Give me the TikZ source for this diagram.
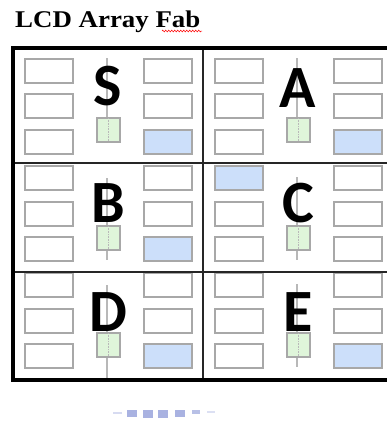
\documentclass[tikz,border=0pt]{standalone}
\usepackage{fontspec}
\setmainfont{Liberation Serif}
\newfontfamily\letterfont{Carlito}
\usetikzlibrary{decorations.pathmorphing}
\definecolor{slotgray}{HTML}{A8A8A8}
\definecolor{slotblue}{HTML}{CCDFFA}
\definecolor{slotgreen}{HTML}{DFF5DA}
\definecolor{axisgray}{HTML}{B8B8B8}
\definecolor{smudge}{HTML}{9AA5DC}
\tikzset{
  slot/.style={draw=slotgray, line width=1.1pt, fill=white, minimum width=48pt, minimum height=24pt, inner sep=0pt, outer sep=0pt, anchor=north west},
  blueslot/.style={slot, fill=slotblue},
  greenslot/.style={slot, fill=slotgreen, minimum width=23pt},
  axisline/.style={draw=axisgray, line width=1.8pt},
  bigletter/.style={font=\letterfont\bfseries\fontsize{60}{60}\selectfont, inner sep=0pt, text=black},
  frame/.style={line width=3.5pt, black},
  divider/.style={line width=1.2pt, black!85},
  smudgebox/.style={fill=smudge, draw=none, opacity=0.85}
}
\begin{document}
\begin{tikzpicture}[x=1pt,y=-1pt]
\useasboundingbox (0,0) rectangle (387,421);
% title
\node[anchor=base west, inner sep=0pt] (title) at (15,27) {\scalebox{1.12}[1]{\fontsize{24}{24}\selectfont\bfseries LCD Array Fab}};
\coordinate (sqA) at (162,31);
\coordinate (sqB) at (202,31);
\draw[red, line width=0.5pt, decorate, decoration={zigzag, segment length=3pt, amplitude=0.9pt}] (sqA) -- (sqB);

% cells: name / x-offset / slot rows / green top / axis start / axis end / letter y / letter / blue position
\foreach \nm/\dx/\ya/\yb/\yc/\yg/\ls/\le/\ly/\lt/\bl in {
  S/0/59/94/130/118/58/143/86/S/r,
  A/190/59/94/130/118/58/142/88/A/r,
  B/0/166/202/237/226/178/260/203/B/r,
  C/190/166/202/237/226/177/260/203/C/l,
  D/0/273/309/344/333/285/378/312/D/r,
  E/190/273/309/344/333/284/367/312/E/r}{
  \coordinate (\nm-top) at (107+\dx,\ls);
  \coordinate (\nm-bot) at (107+\dx,\le);
  \draw[axisline] (\nm-top) -- (\nm-bot);
  \if\bl l
    \node[blueslot] (\nm-l1) at (25+\dx,\ya) {};
  \else
    \node[slot] (\nm-l1) at (25+\dx,\ya) {};
  \fi
  \node[slot] (\nm-l2) at (25+\dx,\yb) {};
  \node[slot] (\nm-l3) at (25+\dx,\yc) {};
  \node[slot] (\nm-r1) at (144+\dx,\ya) {};
  \node[slot] (\nm-r2) at (144+\dx,\yb) {};
  \if\bl r
    \node[blueslot] (\nm-r3) at (144+\dx,\yc) {};
  \else
    \node[slot] (\nm-r3) at (144+\dx,\yc) {};
  \fi
  \node[greenslot] (\nm-g) at (97+\dx,\yg) {};
  \draw[axisgray, line width=0.6pt, densely dotted] (\nm-g.north) -- (\nm-g.south);
  \node[bigletter] (\nm-letter) at (108+\dx,\ly) {\lt};
}

% frame and dividers
\coordinate (f-tl) at (13,48);
\coordinate (f-tr) at (390,48);
\coordinate (f-bl) at (13,380);
\coordinate (f-br) at (390,380);
\coordinate (d-top) at (203,48);
\coordinate (d-bot) at (203,380);
\coordinate (h1-l) at (13,163);
\coordinate (h1-r) at (390,163);
\coordinate (h2-l) at (13,272);
\coordinate (h2-r) at (390,272);
\draw[divider] (d-top) -- (d-bot);
\draw[divider] (h1-l) -- (h1-r);
\draw[divider] (h2-l) -- (h2-r);
\draw[frame] (f-tr) -- (f-tl) -- (f-bl) -- (f-br);

% faint smudge below
\fill[smudgebox, opacity=0.4] (113,412) rectangle (122,414);
\fill[smudgebox] (127,410) rectangle (137,417);
\fill[smudgebox] (143,410) rectangle (153,418);
\fill[smudgebox] (158,410) rectangle (168,418);
\fill[smudgebox] (175,410) rectangle (185,417);
\fill[smudgebox, opacity=0.7] (192,410) rectangle (200,414);
\fill[smudgebox, opacity=0.35] (207,411) rectangle (215,412.5);
\end{tikzpicture}
\end{document}
